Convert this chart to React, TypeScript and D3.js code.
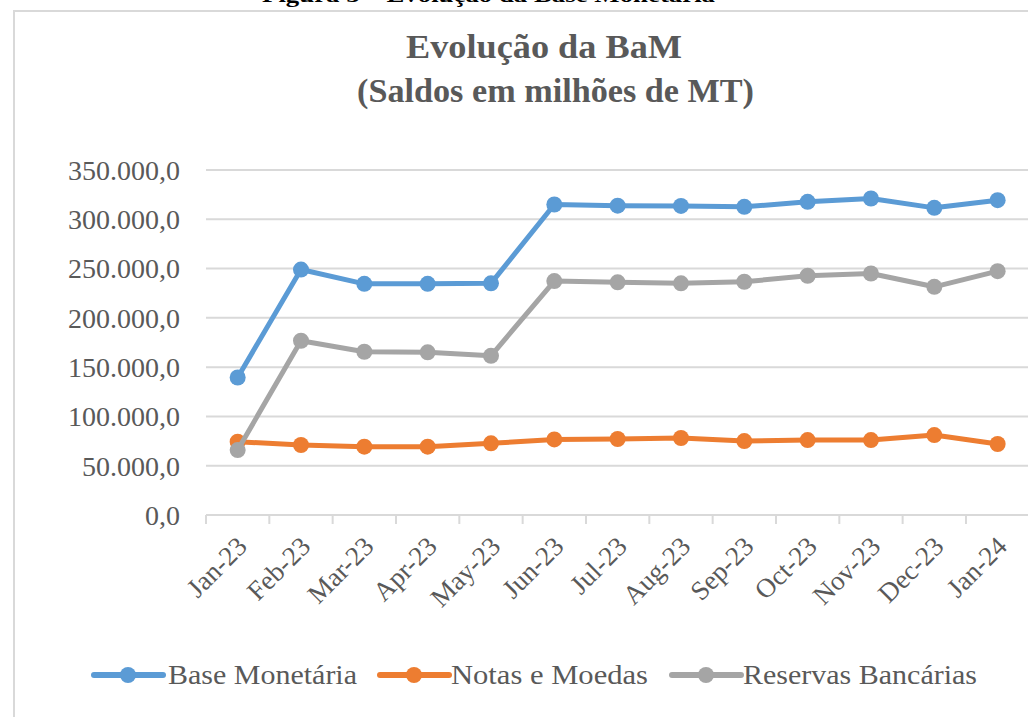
import React, { useEffect, useRef } from "react";
import * as d3 from "d3";

// Months on the x axis
const months = [
  "Jan-23", "Feb-23", "Mar-23", "Apr-23", "May-23", "Jun-23", "Jul-23",
  "Aug-23", "Sep-23", "Oct-23", "Nov-23", "Dec-23", "Jan-24",
];

// Series values (milhões de MT)
const baseMonetaria = [
  139500, 249000, 234500, 234500, 235000, 315000, 313800,
  313600, 312600, 317700, 321100, 311600, 319400,
];
const notasMoedas = [
  74300, 71000, 69300, 69300, 72700, 76700, 77100,
  78100, 75000, 76000, 76000, 81100, 72000,
];
const reservasBancarias = [
  65900, 176800, 165600, 165000, 161500, 237300, 236000,
  235000, 236600, 242700, 245000, 231500, 247400,
];

const yTicks = [0, 50000, 100000, 150000, 200000, 250000, 300000, 350000];

const seriesNames = ["Base Monetária", "Notas e Moedas", "Reservas Bancárias"];
const seriesColors = ["#5B9BD5", "#ED7D31", "#A5A5A5"];

const serif = "'Liberation Serif', 'Times New Roman', serif";

export default function App() {
  const svgRef = useRef<SVGSVGElement | null>(null);

  useEffect(() => {
    const width = 1028;
    const height = 717;

    const svg = d3.select(svgRef.current)
      .attr("width", width)
      .attr("height", height);
    svg.selectAll("*").remove();

    svg.append("rect")
      .attr("width", width).attr("height", height)
      .attr("fill", "#fff");

    // caption, cut off at the top like in the source picture
    svg.append("text")
      .attr("x", 262).attr("y", 2)
      .attr("textLength", 453)
      .attr("lengthAdjust", "spacingAndGlyphs")
      .attr("font-family", serif)
      .attr("font-weight", "bold")
      .attr("font-size", 22)
      .attr("fill", "#000")
      .text("Figura 5 – Evolução da Base Monetária");

    // chart area border
    svg.append("path")
      .attr("d", `M14,${height + 5}V11H${width + 5}`)
      .attr("fill", "none")
      .attr("stroke", "#D9D9D9")
      .attr("stroke-width", 2);

    // title
    const title = svg.append("g")
      .attr("font-family", serif)
      .attr("font-weight", "bold")
      .attr("font-size", 33)
      .attr("fill", "#595959");
    title.append("text")
      .attr("x", 406).attr("y", 58)
      .attr("textLength", 276)
      .attr("lengthAdjust", "spacingAndGlyphs")
      .text("Evolução da BaM");
    title.append("text")
      .attr("x", 357).attr("y", 102)
      .attr("textLength", 397)
      .attr("lengthAdjust", "spacingAndGlyphs")
      .text("(Saldos em milhões de MT)");

    const x = d3.scaleBand<string>()
      .domain(months)
      .range([206, 1029.3]);
    const cx = (m: string) => (x(m) as number) + x.bandwidth() / 2;

    const y = d3.scaleLinear()
      .domain([0, 350000])
      .range([515, 170]);

    const fmt = (v: number) =>
      d3.format(",.1f")(v).replace(/,/g, "#").replace(".", ",").replace(/#/g, ".");

    // gridlines
    svg.append("g")
      .selectAll("line")
      .data(yTicks)
      .join("line")
      .attr("x1", 206).attr("x2", width + 5)
      .attr("y1", d => y(d)).attr("y2", d => y(d))
      .attr("stroke", "#D9D9D9")
      .attr("stroke-width", 2);

    // y labels
    svg.append("g")
      .attr("font-family", serif)
      .attr("font-size", 28)
      .attr("fill", "#595959")
      .attr("text-anchor", "end")
      .selectAll("text")
      .data(yTicks)
      .join("text")
      .attr("x", 180)
      .attr("y", d => y(d))
      .attr("dy", "0.35em")
      .text(d => fmt(d));

    // x tick marks at category edges
    const edges = months.map(m => x(m) as number).concat([x.range()[1]]);
    svg.append("g")
      .selectAll("line")
      .data(edges)
      .join("line")
      .attr("x1", d => d).attr("x2", d => d)
      .attr("y1", 515).attr("y2", 524)
      .attr("stroke", "#D9D9D9")
      .attr("stroke-width", 2);

    // x labels rotated
    svg.append("g")
      .attr("font-family", serif)
      .attr("font-size", 27)
      .attr("fill", "#595959")
      .attr("text-anchor", "end")
      .selectAll("text")
      .data(months)
      .join("text")
      .attr("transform", d => `translate(${cx(d) + 11},${548}) rotate(-45)`)
      .text(d => d);

    // lines + markers
    const allSeries = [baseMonetaria, notasMoedas, reservasBancarias];
    const line = d3.line<number>()
      .x((_, i) => cx(months[i]))
      .y(d => y(d));

    allSeries.forEach((values, k) => {
      const g = svg.append("g");
      g.append("path")
        .datum(values)
        .attr("d", line)
        .attr("fill", "none")
        .attr("stroke", seriesColors[k])
        .attr("stroke-width", 5)
        .attr("stroke-linejoin", "round");
      g.selectAll("circle")
        .data(values)
        .join("circle")
        .attr("cx", (_, i) => cx(months[i]))
        .attr("cy", d => y(d))
        .attr("r", 8)
        .attr("fill", seriesColors[k]);
    });

    // legend
    const legendItems = [
      { x0: 94, tx: 168, tw: 189 },
      { x0: 380, tx: 451, tw: 197 },
      { x0: 672, tx: 743, tw: 234 },
    ];
    const legend = svg.append("g")
      .attr("font-family", serif)
      .attr("font-size", 27)
      .attr("fill", "#595959");
    legendItems.forEach((it, k) => {
      legend.append("line")
        .attr("x1", it.x0).attr("x2", it.x0 + 69)
        .attr("y1", 675).attr("y2", 675)
        .attr("stroke", seriesColors[k])
        .attr("stroke-width", 6)
        .attr("stroke-linecap", "round");
      legend.append("circle")
        .attr("cx", it.x0 + 34).attr("cy", 675)
        .attr("r", 8)
        .attr("fill", seriesColors[k]);
      legend.append("text")
        .attr("x", it.tx).attr("y", 675)
        .attr("dy", "0.35em")
        .attr("textLength", it.tw)
        .attr("lengthAdjust", "spacingAndGlyphs")
        .text(seriesNames[k]);
    });

    return () => {
      d3.select(svgRef.current).selectAll("*").remove();
    };
  }, []);

  return (
    <div style={{ position: "absolute", left: 0, top: 0 }}>
      <svg ref={svgRef} style={{ display: "block" }} />
    </div>
  );
}
